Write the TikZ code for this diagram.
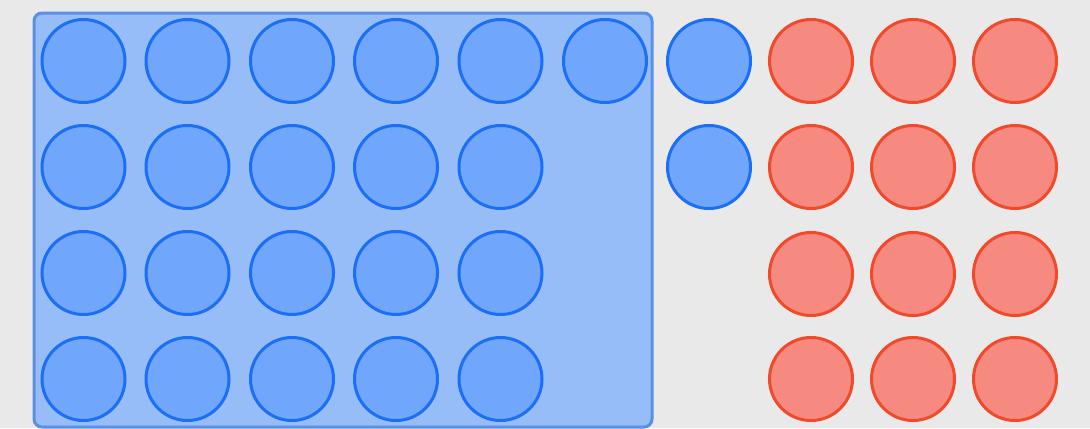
\documentclass[tikz,border=0pt]{standalone}
\usetikzlibrary{positioning}
\definecolor{bg}{HTML}{E9E9E9}
\definecolor{rectfill}{HTML}{96BDF8}
\definecolor{rectline}{HTML}{5A8FE6}
\definecolor{bluefill}{HTML}{70A6FC}
\definecolor{blueline}{HTML}{1A6EF8}
\definecolor{redfill}{HTML}{F68A80}
\definecolor{redline}{HTML}{F04A2A}
\tikzset{
  bluedot/.style={circle, fill=bluefill, draw=blueline, line width=1.5pt, minimum size=41.5pt, inner sep=0pt},
  reddot/.style={circle, fill=redfill, draw=redline, line width=1.5pt, minimum size=41.5pt, inner sep=0pt},
  groupbox/.style={fill=rectfill, draw=rectline, line width=1.5pt, rounded corners=4pt}
}
\begin{document}
\begin{tikzpicture}[x=0.5pt,y=-0.5pt]
\fill[bg] (0,0) rectangle (1090,428);
\useasboundingbox (0,0) rectangle (1090,428);
\draw[groupbox] (34,13) rectangle (652,427);
\node[coordinate] (box) at (343,220) {};
% row 1
\node[bluedot] (b11) at (83.5,61) {};
\node[bluedot] (b12) at (187.5,61) {};
\node[bluedot] (b13) at (292,61) {};
\node[bluedot] (b14) at (396,61) {};
\node[bluedot] (b15) at (500.5,61) {};
\node[bluedot] (b16) at (605,61) {};
\node[bluedot] (b17) at (709,61) {};
\node[reddot] (r18) at (811,61) {};
\node[reddot] (r19) at (913,61) {};
\node[reddot] (r110) at (1015,61) {};
% row 2
\node[bluedot] (b21) at (83.5,167) {};
\node[bluedot] (b22) at (187.5,167) {};
\node[bluedot] (b23) at (292,167) {};
\node[bluedot] (b24) at (396,167) {};
\node[bluedot] (b25) at (500.5,167) {};
\node[bluedot] (b27) at (709,167) {};
\node[reddot] (r28) at (811,167) {};
\node[reddot] (r29) at (913,167) {};
\node[reddot] (r210) at (1015,167) {};
% row 3
\node[bluedot] (b31) at (83.5,273) {};
\node[bluedot] (b32) at (187.5,273) {};
\node[bluedot] (b33) at (292,273) {};
\node[bluedot] (b34) at (396,273) {};
\node[bluedot] (b35) at (500.5,273) {};
\node[reddot] (r38) at (811,274) {};
\node[reddot] (r39) at (913,274) {};
\node[reddot] (r310) at (1015,274) {};
% row 4
\node[bluedot] (b41) at (83.5,379) {};
\node[bluedot] (b42) at (187.5,379) {};
\node[bluedot] (b43) at (292,379) {};
\node[bluedot] (b44) at (396,379) {};
\node[bluedot] (b45) at (500.5,379) {};
\node[reddot] (r48) at (811,379) {};
\node[reddot] (r49) at (913,379) {};
\node[reddot] (r410) at (1015,379) {};
\end{tikzpicture}
\end{document}
